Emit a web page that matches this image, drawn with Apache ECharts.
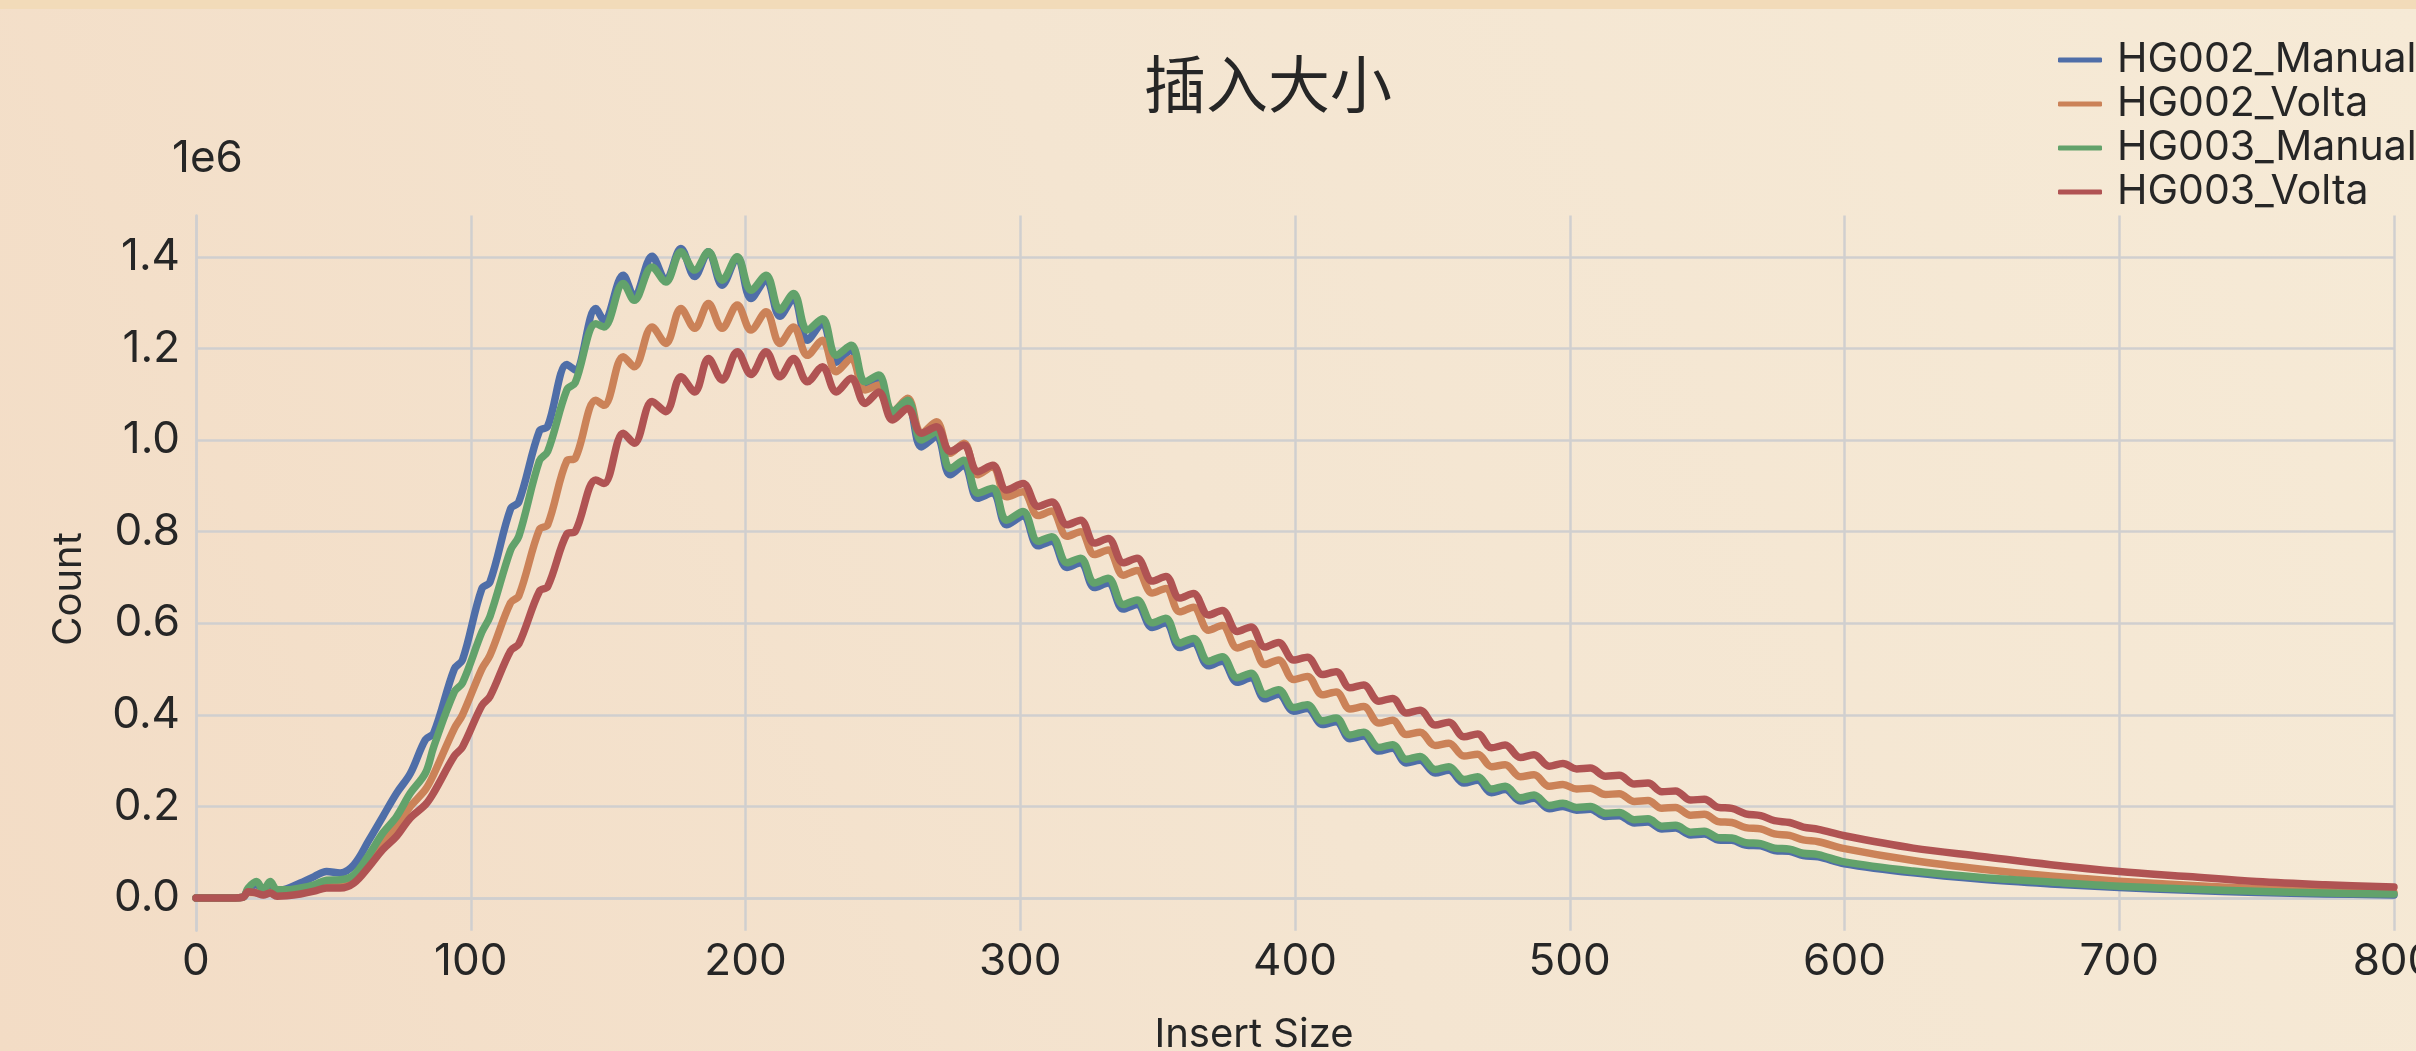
<!DOCTYPE html>
<html>
<head>
<meta charset="utf-8">
<script src="https://cdn.jsdelivr.net/npm/echarts@6/dist/echarts.min.js"></script>
<style>
html,body{margin:0;padding:0;width:2416px;height:1051px;overflow:hidden;}
#chart{width:2416px;height:1051px;}
</style>
</head>
<body>
<div id="chart"></div>
<script>
// Insert size (x) sample positions
const xs = [0, 10, 17, 19, 22, 24.5, 27, 29.5, 33, 38, 43, 47.5, 52.5, 57.5, 63, 68, 73, 78,
  83.5, 86.5, 94, 97, 104, 107, 114.5, 117.5, 125, 128, 135, 138, 145.5, 148.5, 155.5, 159.5, 166, 171, 176.5, 181.5, 186.5, 191.5, 197, 202,
  207.5, 212.5, 217.5, 222.5, 228, 233, 238.5, 243.5, 248.5, 253.5, 259, 264, 269.5, 274.5, 279.5, 284.5, 290, 295,
  301, 306.5, 311.5, 317, 322, 327, 332, 337.5, 342.5, 348, 353, 358, 363, 368.5, 373.5, 379, 384, 389, 394, 399.5,
  404.5, 410, 415, 420, 425, 430.5, 435.5, 440.5, 445.5, 451, 456, 461.5, 466.5, 471.5, 476.5, 482, 487, 492.5, 497.5,
  502.5, 507.5, 513, 518, 523.5, 528.5, 533.5, 538.5, 544, 549, 554, 559,
  564, 569.5, 574.5, 580, 585, 590.5, 600, 625, 650, 675, 700, 725, 750, 775, 800];

// Counts in units of 1e6
const hg002Manual = [0, 0, 0.002, 0.018, 0.03, 0.016, 0.03, 0.016, 0.02, 0.033, 0.047, 0.058, 0.055, 0.073, 0.127, 0.178, 0.229, 0.272,
  0.346, 0.36, 0.50, 0.52, 0.675, 0.69, 0.85, 0.865, 1.02, 1.03, 1.165, 1.153, 1.287, 1.262, 1.36, 1.313, 1.401, 1.349, 1.418, 1.357, 1.411, 1.338, 1.399, 1.309,
  1.35, 1.27, 1.31, 1.218, 1.255, 1.17, 1.197, 1.115, 1.132, 1.05, 1.077, 0.985, 1.008, 0.924, 0.945, 0.873, 0.885, 0.815,
  0.834, 0.769, 0.779, 0.722, 0.732, 0.678, 0.688, 0.631, 0.641, 0.591, 0.601, 0.547, 0.557, 0.507, 0.517, 0.471, 0.481, 0.435, 0.445, 0.408,
  0.414, 0.379, 0.385, 0.348, 0.354, 0.321, 0.327, 0.295, 0.301, 0.273, 0.279, 0.251, 0.257, 0.23, 0.237, 0.212, 0.218, 0.195, 0.2,
  0.192, 0.194, 0.178, 0.18, 0.164, 0.166, 0.151, 0.153, 0.138, 0.14, 0.127, 0.126,
  0.116, 0.114, 0.104, 0.102, 0.093, 0.09, 0.075, 0.055, 0.041, 0.031, 0.023, 0.017, 0.012, 0.009, 0.007];

const hg002Volta = [0, 0, 0.002, 0.012, 0.012, 0.008, 0.012, 0.006, 0.008, 0.014, 0.02, 0.028, 0.03, 0.04, 0.08, 0.12, 0.156, 0.2,
  0.237, 0.27, 0.37, 0.40, 0.50, 0.53, 0.645, 0.66, 0.805, 0.815, 0.955, 0.96, 1.087, 1.076, 1.182, 1.16, 1.247, 1.211, 1.287, 1.244, 1.298, 1.244, 1.295, 1.24,
  1.28, 1.211, 1.247, 1.185, 1.218, 1.149, 1.178, 1.109, 1.12, 1.062, 1.091, 1.015, 1.04, 0.971, 0.993, 0.924, 0.942, 0.876,
  0.887, 0.835, 0.845, 0.79, 0.80, 0.75, 0.76, 0.705, 0.715, 0.666, 0.676, 0.625, 0.635, 0.585, 0.595, 0.546, 0.556, 0.51, 0.52, 0.477,
  0.484, 0.444, 0.45, 0.413, 0.418, 0.382, 0.388, 0.357, 0.362, 0.333, 0.338, 0.31, 0.314, 0.287, 0.291, 0.265, 0.269, 0.244, 0.248,
  0.238, 0.24, 0.226, 0.228, 0.211, 0.213, 0.196, 0.198, 0.181, 0.183, 0.167, 0.165,
  0.154, 0.151, 0.14, 0.137, 0.127, 0.123, 0.108, 0.082, 0.063, 0.048, 0.037, 0.028, 0.021, 0.016, 0.012];

const hg003Manual = [0, 0, 0.002, 0.022, 0.036, 0.018, 0.036, 0.018, 0.018, 0.022, 0.029, 0.039, 0.04, 0.051, 0.095, 0.142, 0.178, 0.229,
  0.273, 0.33, 0.45, 0.47, 0.58, 0.615, 0.76, 0.79, 0.955, 0.975, 1.11, 1.125, 1.254, 1.247, 1.342, 1.305, 1.378, 1.345, 1.411, 1.371, 1.411, 1.349, 1.40, 1.327,
  1.36, 1.284, 1.32, 1.24, 1.265, 1.185, 1.207, 1.127, 1.142, 1.062, 1.087, 1.0, 1.018, 0.938, 0.956, 0.884, 0.895, 0.825,
  0.844, 0.779, 0.789, 0.732, 0.742, 0.688, 0.698, 0.641, 0.651, 0.601, 0.611, 0.557, 0.567, 0.517, 0.527, 0.481, 0.491, 0.445, 0.455, 0.416,
  0.422, 0.387, 0.393, 0.356, 0.362, 0.329, 0.335, 0.303, 0.309, 0.281, 0.287, 0.259, 0.265, 0.238, 0.244, 0.219, 0.225, 0.202, 0.207,
  0.198, 0.2, 0.185, 0.187, 0.171, 0.173, 0.157, 0.159, 0.144, 0.146, 0.132, 0.131,
  0.121, 0.119, 0.109, 0.107, 0.098, 0.095, 0.079, 0.059, 0.045, 0.035, 0.026, 0.02, 0.015, 0.011, 0.009];

const hg003Volta = [0, 0, 0.002, 0.014, 0.011, 0.007, 0.011, 0.004, 0.005, 0.009, 0.015, 0.022, 0.022, 0.033, 0.069, 0.106, 0.135, 0.175,
  0.204, 0.23, 0.31, 0.33, 0.42, 0.44, 0.54, 0.555, 0.67, 0.68, 0.795, 0.80, 0.913, 0.905, 1.015, 0.993, 1.084, 1.062, 1.138, 1.105, 1.178, 1.131, 1.193, 1.143,
  1.193, 1.138, 1.178, 1.127, 1.16, 1.105, 1.135, 1.08, 1.105, 1.044, 1.069, 1.015, 1.029, 0.975, 0.989, 0.931, 0.945, 0.891,
  0.905, 0.855, 0.865, 0.815, 0.825, 0.775, 0.785, 0.732, 0.742, 0.692, 0.702, 0.655, 0.665, 0.618, 0.628, 0.582, 0.592, 0.548, 0.558, 0.52,
  0.526, 0.488, 0.494, 0.459, 0.465, 0.43, 0.436, 0.404, 0.41, 0.378, 0.384, 0.352, 0.358, 0.328, 0.334, 0.307, 0.313, 0.288, 0.294,
  0.282, 0.284, 0.266, 0.268, 0.249, 0.251, 0.232, 0.234, 0.214, 0.216, 0.198, 0.196,
  0.184, 0.18, 0.169, 0.165, 0.155, 0.15, 0.136, 0.109, 0.091, 0.073, 0.058, 0.047, 0.036, 0.029, 0.024];

const seriesNames = ['HG002_Manual', 'HG002_Volta', 'HG003_Manual', 'HG003_Volta'];
const seriesColors = ['#4f6ea8', '#cb8258', '#62a26b', '#b05353'];
const yTickValues = [0, 0.2, 0.4, 0.6, 0.8, 1.0, 1.2, 1.4];

const titleText = '插入大小';
const xAxisName = 'Insert Size';
const yAxisName = 'Count';
const yScaleText = '1e6';

const allSeries = [hg002Manual, hg002Volta, hg003Manual, hg003Volta];
const FONT = 'Inter, "Noto Sans", sans-serif';
const TXT = '#262626';
const GRIDC = '#d0cfcf';

const chart = echarts.init(document.getElementById('chart'), null, {renderer: 'canvas'});
chart.setOption({
  backgroundColor: {
    type: 'linear', x: 0, y: 1, x2: 1, y2: 0,
    colorStops: [{offset: 0, color: '#f3dcc5'}, {offset: 0.5, color: '#f4e5d1'}, {offset: 1, color: '#f6ead6'}]
  },
  animation: false,
  grid: {left: 196, right: 22, top: 215.6, bottom: 120.3, containLabel: false, outerBoundsMode: 'none'},
  xAxis: {
    type: 'value', min: 0, max: 800, interval: 100,
    axisLine: {show: true, lineStyle: {color: GRIDC, width: 2.5}},
    axisTick: {show: false},
    axisLabel: {fontSize: 44, color: TXT, fontFamily: FONT, margin: 9, showMinLabel: true, showMaxLabel: true, hideOverlap: false},
    splitLine: {show: true, lineStyle: {color: GRIDC, width: 2.5}}
  },
  yAxis: {
    type: 'value', min: -0.0712, max: 1.49,
    axisLine: {show: true, lineStyle: {color: GRIDC, width: 2.5}},
    axisTick: {show: false, customValues: yTickValues},
    axisLabel: {customValues: yTickValues, formatter: v => v.toFixed(1), fontSize: 44, color: TXT, fontFamily: FONT, margin: 16},
    splitLine: {show: true, lineStyle: {color: GRIDC, width: 2.5}}
  },
  legend: {
    orient: 'vertical', left: 2058, top: 38, padding: 0,
    icon: 'roundRect', itemWidth: 44, itemHeight: 5, itemGap: 0,
    textStyle: {fontSize: 41, lineHeight: 44, color: TXT, fontFamily: FONT, padding: [0, 0, 0, 10]},
    data: seriesNames
  },
  graphic: [
    {type: 'rect', left: 0, top: 0, shape: {width: 2416, height: 9}, style: {fill: '#f2dbb9'}, silent: true},
    {type: 'text', x: 1268, y: 84, style: {text: titleText, fontSize: 62, fontFamily: '"Noto Sans CJK SC", sans-serif', fill: TXT, textAlign: 'center', textVerticalAlign: 'middle'}},
    {type: 'text', x: 172, y: 159, style: {text: yScaleText, fontSize: 44, fontFamily: FONT, fill: TXT, textAlign: 'left', textVerticalAlign: 'middle'}},
    {type: 'text', x: 1254, y: 1035, style: {text: xAxisName, fontSize: 40, fontFamily: FONT, fill: TXT, textAlign: 'center', textVerticalAlign: 'middle'}},
    {type: 'text', x: 69, y: 589, rotation: Math.PI / 2, style: {text: yAxisName, fontSize: 40, fontFamily: FONT, fill: TXT, textAlign: 'center', textVerticalAlign: 'middle'}}
  ],
  series: allSeries.map((arr, k) => ({
    name: seriesNames[k],
    type: 'line',
    data: xs.map((x, i) => [x, arr[i]]),
    smooth: 0.35,
    showSymbol: false,
    symbol: 'none',
    lineStyle: {width: 7.5, color: seriesColors[k], cap: 'round', join: 'round'},
    itemStyle: {color: seriesColors[k]},
    z: 2 + k
  }))
});
</script>
</body>
</html>
